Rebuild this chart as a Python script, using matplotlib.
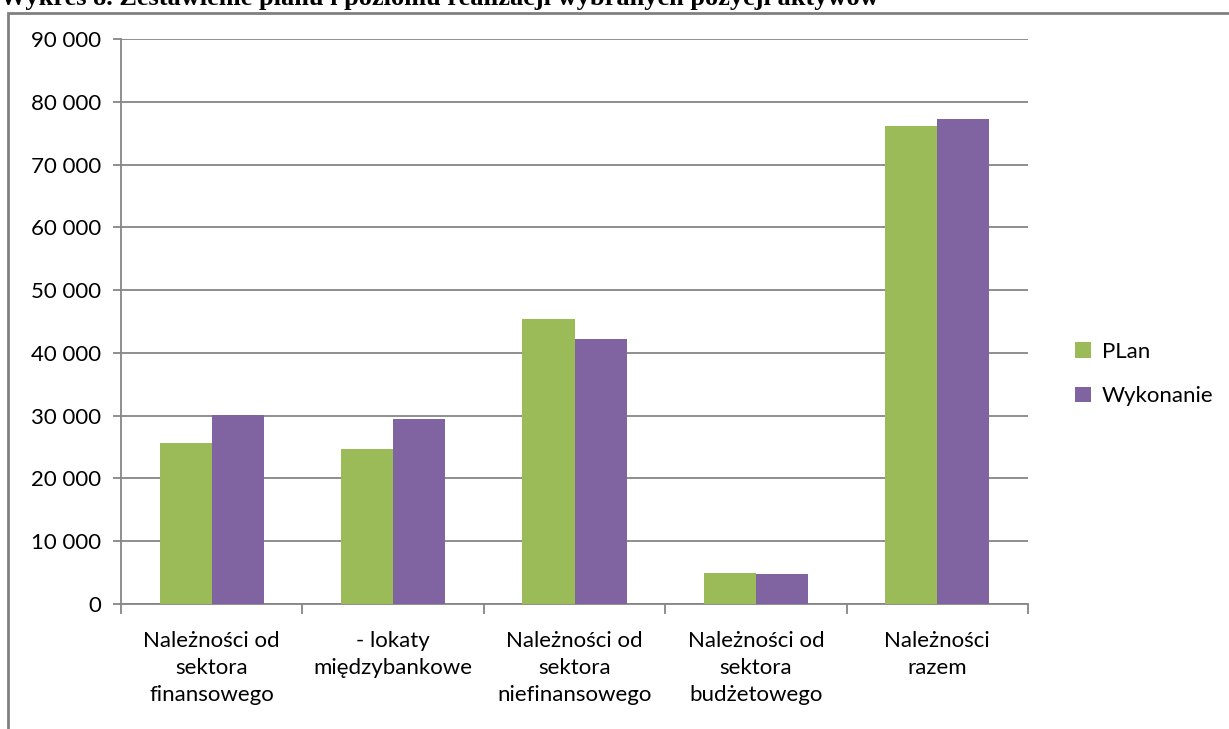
import matplotlib.pyplot as plt
import numpy as np
from matplotlib.patches import Rectangle

categories = ['Należności od\nsektora\nfinansowego', '- lokaty\nmiędzybankowe',
              'Należności od\nsektora\nniefinansowego', 'Należności od\nsektora\nbudżetowego',
              'Należności\nrazem']
plan = [25700, 24700, 45400, 5000, 76100]
wykonanie = [30100, 29500, 42200, 4700, 77300]
yticks = list(range(0, 90001, 10000))
ytick_labels = ['0' if v == 0 else f'{v // 1000} 000' for v in yticks]

green = '#9bbb59'
purple = '#8064a2'
grid_col = '#868686'
fs = 16

plt.rcParams['font.family'] = ['Lato', 'DejaVu Sans']
fig = plt.figure(figsize=(12.29, 7.29), dpi=100)
ax = fig.add_axes([121 / 1229, 1 - 604 / 729, (1028 - 121) / 1229, (604 - 39) / 729])

x = np.arange(len(categories))
w = 0.287
ax.bar(x - w / 2, plan, w, color=green, label='PLan', zorder=3)
ax.bar(x + w / 2, wykonanie, w, color=purple, label='Wykonanie', zorder=3)

ax.set_xlim(-0.5, len(categories) - 0.5)
ax.set_ylim(0, 90000)
ax.set_yticks(yticks)
ax.set_yticklabels(ytick_labels, fontsize=fs)
ax.yaxis.grid(True, color=grid_col, linewidth=1.3, zorder=0)

# category ticks sit between groups
ax.set_xticks(np.arange(-0.5, len(categories), 1.0))
ax.set_xticklabels([])
ax.tick_params(axis='x', length=7, color=grid_col, width=1.3, direction='out')
ax.tick_params(axis='y', length=6, color=grid_col, width=1.3, direction='out', pad=8)
for i, lab in enumerate(categories):
    ax.text(i, -4300, lab, ha='center', va='top', fontsize=fs, linespacing=1.45)

for s in ['top', 'right']:
    ax.spines[s].set_visible(False)
for s in ['left', 'bottom']:
    ax.spines[s].set_color(grid_col)
    ax.spines[s].set_linewidth(1.3)

ax.legend(loc='center left', bbox_to_anchor=(1.03, 0.407), frameon=False,
          fontsize=fs, handlelength=0.7, handleheight=0.7, labelspacing=1.1,
          handletextpad=0.5)

# outer chart frame
fig.patches.append(Rectangle((8 / 1229, -0.05), 1.2, 1 - 13 / 729 + 0.05,
                             transform=fig.transFigure, fill=False,
                             edgecolor='#808080', linewidth=2))

# title, clipped by the top edge as in the source
fig.text(0.0, 1 + 2 / 729, 'Wykres 8. Zestawienie planu i poziomu realizacji wybranych pozycji aktywów',
         ha='left', va='center', fontsize=19, fontweight='bold',
         family=['Liberation Serif'])

fig.savefig('out.png', dpi=100)
